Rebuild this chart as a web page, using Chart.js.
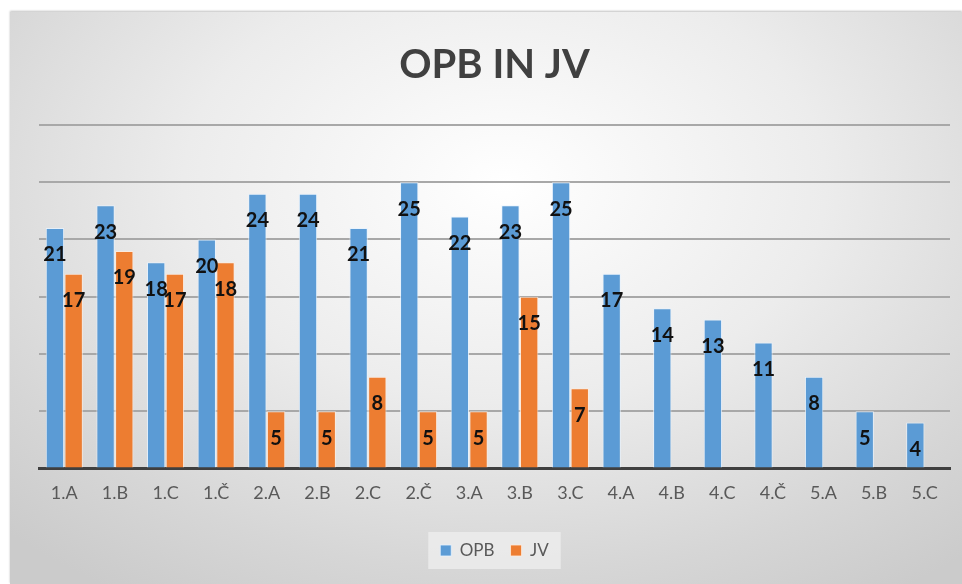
<!DOCTYPE html>
<html>
<head>
<meta charset="utf-8">
<script src="https://cdn.jsdelivr.net/npm/chart.js@4"></script>
<style>
  html, body { margin: 0; padding: 0; background: #fff; }
  #box {
    position: absolute; left: 10px; top: 12px; width: 952px; height: 572px;
    background: radial-gradient(ellipse 75% 85% at 52% 30%, #ffffff 0%, #ececec 45%, #d6d6d6 80%, #cbcbcb 100%);
    box-shadow: 0 -1px 2px rgba(0,0,0,0.25);
  }
</style>
</head>
<body>
<div id="box"><canvas id="chart" width="952" height="572"></canvas></div>
<script>
// --- Datos ---
const categories = ['1.A', '1.B', '1.C', '1.Č', '2.A', '2.B', '2.C', '2.Č', '3.A', '3.B', '3.C', '4.A', '4.B', '4.C', '4.Č', '5.A', '5.B', '5.C'];
const opbValues = [21, 23, 18, 20, 24, 24, 21, 25, 22, 23, 25, 17, 14, 13, 11, 8, 5, 4];
const jvValues = [17, 19, 17, 18, 5, 5, 8, 5, 5, 15, 7, null, null, null, null, null, null, null];
const yTicks = [0, 5, 10, 15, 20, 25, 30];

const FONT = 'Lato, "Open Sans", sans-serif';

// Etiquetas de datos dentro del extremo de cada barra
const barLabels = {
    id: 'barLabels',
    afterDatasetsDraw(chart) {
        const ctx = chart.ctx;
        ctx.save();
        ctx.font = 'bold 20px ' + FONT;
        ctx.fillStyle = '#111';
        ctx.textAlign = 'center';
        ctx.textBaseline = 'middle';
        chart.data.datasets.forEach((ds, i) => {
            chart.getDatasetMeta(i).data.forEach((bar, j) => {
                const v = ds.data[j];
                if (v == null) return;
                ctx.fillText(String(v), bar.x, bar.y + 27);
            });
        });
        ctx.restore();
    }
};

// Fondo claro detrás de la leyenda
const legendBg = {
    id: 'legendBg',
    beforeDraw(chart) {
        const boxes = chart.legend && chart.legend.legendHitBoxes;
        if (!boxes || !boxes.length) return;
        const left = Math.min(...boxes.map(b => b.left)) - 12;
        const right = Math.max(...boxes.map(b => b.left + b.width)) + 12;
        const top = Math.min(...boxes.map(b => b.top)) - 10;
        const bottom = Math.max(...boxes.map(b => b.top + b.height)) + 10;
        const ctx = chart.ctx;
        ctx.save();
        ctx.fillStyle = 'rgba(235,235,235,0.9)';
        ctx.fillRect(left, top, right - left, bottom - top);
        ctx.restore();
    }
};

new Chart(document.getElementById('chart'), {
    type: 'bar',
    data: {
        labels: categories,
        datasets: [
            { label: 'OPB', data: opbValues, backgroundColor: '#5B9BD5', borderColor: 'rgba(230,242,255,0.8)', borderWidth: 1, categoryPercentage: 0.74, barPercentage: 0.98 },
            { label: 'JV', data: jvValues, backgroundColor: '#ED7D31', borderColor: 'rgba(255,235,220,0.8)', borderWidth: 1, categoryPercentage: 0.74, barPercentage: 0.98 }
        ]
    },
    options: {
        responsive: false,
        animation: false,
        layout: { padding: { left: 29, right: 12, bottom: 15 } },
        scales: {
            x: {
                grid: { display: false },
                border: { color: '#3f3f3f', width: 3 },
                ticks: { color: '#595959', font: { family: FONT, size: 18 }, padding: 6 },
                afterFit: s => { s.height += 16; }
            },
            y: {
                min: 0, max: 30,
                afterBuildTicks: axis => { axis.ticks = yTicks.map(v => ({ value: v })); },
                ticks: { display: false },
                border: { display: false },
                grid: { color: '#a8a8a8', lineWidth: 2, drawTicks: false }
            }
        },
        plugins: {
            title: {
                display: true, text: 'OPB IN JV', color: '#404040',
                font: { family: FONT, size: 40, weight: 'bold' },
                padding: { top: 29, bottom: 36 }
            },
            legend: {
                position: 'bottom',
                labels: { color: '#595959', font: { family: FONT, size: 17 }, boxWidth: 11, boxHeight: 11, padding: 16 }
            },
            tooltip: { enabled: false }
        }
    },
    plugins: [barLabels, legendBg]
});
</script>
</body>
</html>
